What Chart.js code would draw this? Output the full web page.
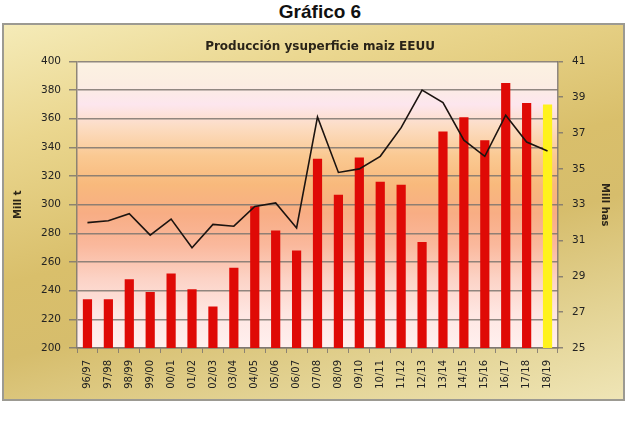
<!DOCTYPE html>
<html>
<head>
<meta charset="utf-8">
<script src="https://cdn.jsdelivr.net/npm/chart.js@4/dist/chart.umd.min.js"></script>
<style>
  html, body { margin: 0; padding: 0; background: #ffffff; width: 640px; height: 422px; overflow: hidden; }
  #heading { position: absolute; left: 0; top: 0; width: 640px; text-align: center;
    font-family: "Liberation Sans", Arial, sans-serif; font-weight: bold; font-size: 19px; line-height: 23px; color: #111; }
  #frame { position: absolute; left: 2px; top: 23px; width: 619px; height: 374px;
    border: 2px solid #9c9a92;
    background: linear-gradient(165deg, #f5ebb8 0%, #ead68e 22%, #d9bf6b 48%, #d6bd6c 62%, #e3d394 82%, #efe5b6 100%); }
  #c { position: absolute; left: 0; top: 0; }
</style>
</head>
<body>
<div id="heading">Gráfico 6</div>
<div id="frame"></div>
<canvas id="c" width="640" height="422"></canvas>
<script>
// ---- data ----
const categories = ['96/97','97/98','98/99','99/00','00/01','01/02','02/03','03/04','04/05','05/06','06/07','07/08','08/09','09/10','10/11','11/12','12/13','13/14','14/15','15/16','16/17','17/18','18/19'];
const production = [234,234,248,239,252,241,229,256,299,282,268,332,307,333,316,314,274,351,361,345,385,371,370];
const area = [32.0,32.1,32.5,31.3,32.2,30.6,31.9,31.8,32.9,33.1,31.7,37.9,34.8,35.0,35.7,37.3,39.4,38.7,36.6,35.7,38.0,36.5,36.0];
const leftTicks = { min: 200, max: 400, step: 20 };
const rightTicks = { min: 25, max: 41, step: 2 };
const chartTitle = 'Producción ysuperficie maiz EEUU';
const leftTitle = 'Mill t';
const rightTitle = 'Mill has';

const plotBg = {
  id: 'plotBg',
  beforeDraw(chart) {
    const { ctx, chartArea: a } = chart;
    const g = ctx.createLinearGradient(0, a.top, 0, a.bottom);
    g.addColorStop(0.00, '#fcf2e2');
    g.addColorStop(0.08, '#fbede2');
    g.addColorStop(0.15, '#fde6ee');
    g.addColorStop(0.23, '#fcdcc2');
    g.addColorStop(0.33, '#fac992');
    g.addColorStop(0.43, '#f8b97c');
    g.addColorStop(0.53, '#f8ad84');
    g.addColorStop(0.64, '#fab89c');
    g.addColorStop(0.76, '#fcd3c6');
    g.addColorStop(0.88, '#fee6e2');
    g.addColorStop(1.00, '#fff0ef');
    ctx.save();
    ctx.fillStyle = g;
    ctx.fillRect(a.left, a.top, a.right - a.left, a.bottom - a.top);
    ctx.restore();
  }
};

const tickFont = { family: 'DejaVu Sans', size: 10 };
const gridColor = 'rgba(125,118,112,0.85)';

new Chart(document.getElementById('c'), {
  data: {
    labels: categories,
    datasets: [
      {
        type: 'line',
        data: area,
        yAxisID: 'y1',
        borderColor: '#1c1410',
        borderWidth: 1.6,
        pointRadius: 0,
        tension: 0,
        order: 0
      },
      {
        type: 'bar',
        data: production,
        yAxisID: 'y',
        backgroundColor: (c) => c.dataIndex === categories.length - 1 ? '#fff21c' : '#df0a06',
        barPercentage: 0.44,
        categoryPercentage: 1.0,
        order: 1
      }
    ]
  },
  options: {
    responsive: false,
    animation: false,
    layout: { padding: 0 },
    plugins: {
      legend: { display: false },
      tooltip: { enabled: false },
      title: {
        display: true,
        text: chartTitle,
        color: '#2a2418',
        font: { family: 'DejaVu Sans', size: 12, weight: 'bold' },
        padding: { top: 40, bottom: 7 }
      }
    },
    scales: {
      x: {
        offset: true,
        grid: { drawOnChartArea: false, color: gridColor, tickLength: 5, offset: true },
        border: { color: gridColor, width: 1.5 },
        ticks: { color: '#222', font: tickFont, minRotation: 90, maxRotation: 90, autoSkip: false, padding: 7 },
        afterFit(s) { s.height = 74; }
      },
      y: {
        position: 'left',
        min: leftTicks.min, max: leftTicks.max,
        ticks: { stepSize: leftTicks.step, color: '#222', font: { family: 'DejaVu Sans', size: 10.5 }, padding: 8 },
        grid: { color: gridColor, lineWidth: 1.5, tickLength: 8 },
        border: { color: gridColor, width: 1.5 },
        title: { display: true, text: leftTitle, color: '#2a2418', font: { family: 'DejaVu Sans', size: 10, weight: 'bold' }, padding: { top: 12, bottom: 0 } },
        afterFit(s) { s.width = 77; }
      },
      y1: {
        position: 'right',
        min: rightTicks.min, max: rightTicks.max,
        ticks: { stepSize: rightTicks.step, color: '#222', font: { family: 'DejaVu Sans', size: 10.5 }, padding: 9 },
        grid: { drawOnChartArea: false, color: gridColor, lineWidth: 1.5, tickLength: 5 },
        border: { color: gridColor, width: 1.5 },
        title: { display: true, text: rightTitle, color: '#2a2418', font: { family: 'DejaVu Sans', size: 10, weight: 'bold' }, padding: { top: 29, bottom: 0 } },
        afterFit(s) { s.width = 82; }
      }
    }
  },
  plugins: [plotBg]
});
</script>
</body>
</html>
